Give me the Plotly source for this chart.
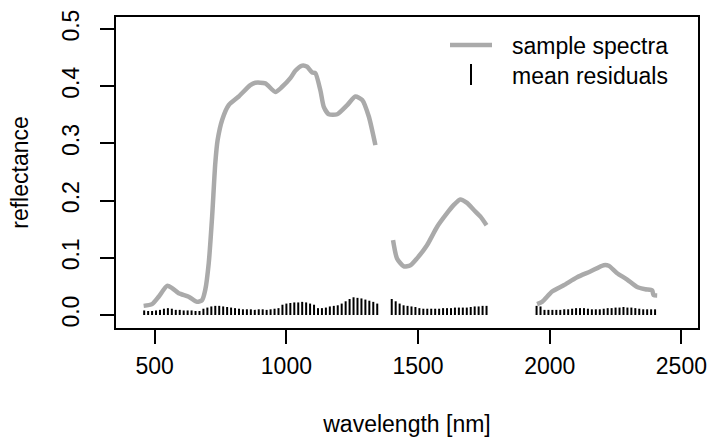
import plotly.graph_objects as go

# ---- sample spectrum (three measured windows, gaps at water bands) ----
spec_wl_1 = [458, 490, 515, 547, 566, 591, 629, 661, 680, 692, 705, 718, 730, 739, 756, 781, 819, 863, 882,
             920, 958, 984, 1015, 1034, 1060, 1079, 1098, 1110, 1129, 1142, 1161, 1193, 1231, 1262, 1288, 1313, 1338]
spec_rf_1 = [0.016, 0.019, 0.032, 0.051, 0.047, 0.038, 0.032, 0.023, 0.026, 0.044, 0.090, 0.172, 0.265, 0.306,
             0.341, 0.367, 0.382, 0.402, 0.406, 0.405, 0.390, 0.399, 0.414, 0.427, 0.436, 0.434, 0.424, 0.423,
             0.393, 0.364, 0.351, 0.351, 0.367, 0.382, 0.376, 0.347, 0.297]
spec_wl_2 = [1405, 1420, 1446, 1471, 1496, 1534, 1572, 1610, 1635, 1660, 1686, 1711, 1737, 1760]
spec_rf_2 = [0.131, 0.099, 0.085, 0.087, 0.099, 0.122, 0.154, 0.178, 0.192, 0.202, 0.196, 0.184, 0.172, 0.157]
spec_wl_3 = [1952, 1971, 2009, 2053, 2104, 2154, 2205, 2224, 2256, 2294, 2332, 2363, 2389, 2394, 2408]
spec_rf_3 = [0.019, 0.023, 0.041, 0.052, 0.066, 0.076, 0.087, 0.086, 0.073, 0.062, 0.049, 0.045, 0.043, 0.035, 0.034]

# ---- mean residuals (15 nm spacing in each window) ----
res_wl_1 = list(range(460, 1346, 15))
res_val_1 = [0.008, 0.007, 0.007, 0.008, 0.009,
             0.011, 0.012, 0.011,
             0.009, 0.009, 0.008, 0.008, 0.008, 0.007, 0.007,
             0.011, 0.013, 0.015, 0.016, 0.016, 0.015, 0.014, 0.013,
             0.012, 0.011, 0.010, 0.010, 0.010, 0.009, 0.010, 0.010, 0.009, 0.010, 0.011, 0.012,
             0.018, 0.020, 0.021, 0.022, 0.022, 0.023, 0.022, 0.020, 0.018,
             0.012, 0.012, 0.013, 0.015, 0.016, 0.017,
             0.020, 0.024, 0.028, 0.031, 0.030, 0.029, 0.027, 0.025, 0.023, 0.020]
res_wl_2 = list(range(1400, 1761, 15))
res_val_2 = [0.028, 0.024, 0.020, 0.017, 0.016, 0.015, 0.014, 0.012, 0.011, 0.011, 0.011, 0.011, 0.011,
             0.012, 0.012, 0.012, 0.013, 0.013, 0.013, 0.013, 0.014, 0.015, 0.015, 0.016, 0.016]
res_wl_3 = list(range(1950, 2401, 15))
res_val_3 = [0.016, 0.015, 0.009, 0.009, 0.009, 0.009, 0.009, 0.010, 0.010, 0.011, 0.012, 0.012, 0.012,
             0.011, 0.010, 0.010, 0.010, 0.011, 0.012, 0.012, 0.013, 0.013, 0.014, 0.013, 0.013, 0.012,
             0.011, 0.010, 0.010, 0.010, 0.010]

x_ticks = [500, 1000, 1500, 2000, 2500]
y_ticks = [0.0, 0.1, 0.2, 0.3, 0.4, 0.5]
legend_labels = ["sample spectra", "mean residuals"]

FONT = "Liberation Sans, Arial, sans-serif"
GRAY = "#aaaaaa"
FS = 23

# build spectrum with gaps
sx, sy = [], []
for wl, rf in [(spec_wl_1, spec_rf_1), (spec_wl_2, spec_rf_2), (spec_wl_3, spec_rf_3)]:
    sx += wl + [None]
    sy += rf + [None]

# build residual sticks (type="h")
rx, ry = [], []
for wl, vals in [(res_wl_1, res_val_1), (res_wl_2, res_val_2), (res_wl_3, res_val_3)]:
    for w, v in zip(wl, vals):
        rx += [w, w, None]
        ry += [0, v, None]

fig = go.Figure()
fig.add_trace(go.Scatter(x=sx, y=sy, mode="lines", name=legend_labels[0], showlegend=False,
                         line=dict(color=GRAY, width=4.5, shape="spline", smoothing=0.6), connectgaps=False))
fig.add_trace(go.Scatter(x=rx, y=ry, mode="lines", name=legend_labels[1], showlegend=False,
                         line=dict(color="black", width=2), hoverinfo="skip"))

# plot-area geometry (pixels) for the legend box drawn in paper coordinates
L, R, T, B = 116, 698, 17, 328
W, H = R - L, B - T


def px(x):
    return (x - L) / W


def py(y):
    return (B - y) / H


shapes = [
    dict(type="line", xref="paper", yref="paper", x0=px(450), x1=px(492), y0=py(45), y1=py(45),
         line=dict(color=GRAY, width=4.5)),
    dict(type="line", xref="paper", yref="paper", x0=px(471), x1=px(471), y0=py(64), y1=py(85),
         line=dict(color="black", width=2)),
]
annotations = [
    dict(xref="paper", yref="paper", x=px(510), y=py(46), xanchor="left", yanchor="middle",
         text=legend_labels[0], showarrow=False, font=dict(size=FS)),
    dict(xref="paper", yref="paper", x=px(510), y=py(76), xanchor="left", yanchor="middle",
         text=legend_labels[1], showarrow=False, font=dict(size=FS)),
]

fig.update_layout(
    width=709, height=437,
    margin=dict(l=L, r=709 - R, t=T, b=437 - B),
    paper_bgcolor="white", plot_bgcolor="white",
    font=dict(family=FONT, size=FS, color="black"),
    showlegend=False,
    shapes=shapes, annotations=annotations,
)
fig.update_xaxes(range=[353, 2563], tickvals=x_ticks, ticktext=[str(v) for v in x_ticks],
                 ticks="outside", ticklen=14, tickwidth=1.5, tickcolor="black",
                 showline=True, linecolor="black", linewidth=1.5, mirror=True, automargin=False,
                 showgrid=False, zeroline=False, ticklabelstandoff=3,
                 title=dict(text="wavelength [nm]", standoff=39, font=dict(size=FS)))
fig.update_yaxes(range=[-0.0227, 0.521], tickvals=y_ticks, ticktext=[f"{v:.1f}" for v in y_ticks],
                 tickangle=-90,
                 ticks="outside", ticklen=14, tickwidth=1.5, tickcolor="black",
                 showline=True, linecolor="black", linewidth=1.5, mirror=True, automargin=False,
                 showgrid=False, zeroline=False, ticklabelstandoff=12,
                 title=dict(text="reflectance", standoff=23, font=dict(size=FS)))

# the page has no body margin, so the 709x437 figure fills the window exactly
fig.write_html("out.html", config={"displayModeBar": False},
               post_script="document.body.style.margin='0';")
